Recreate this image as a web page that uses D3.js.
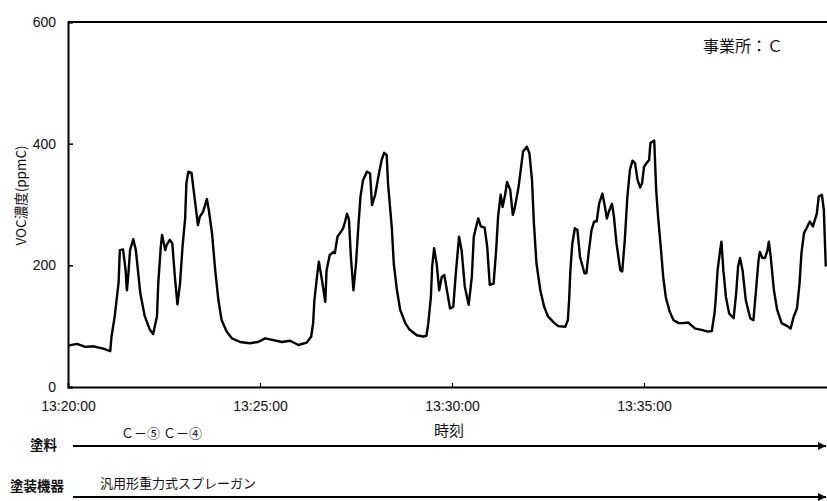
<!DOCTYPE html>
<html>
<head>
<meta charset="utf-8">
<script src="https://cdn.jsdelivr.net/npm/d3@7/dist/d3.min.js"></script>
<style>
  html, body { margin: 0; padding: 0; background: #fff; overflow: hidden; }
  svg { display: block; }
  .num { font-family: "Liberation Sans", Arial, sans-serif; }
  .jp { font-family: "Noto Sans CJK JP", "Noto Sans", sans-serif; }
</style>
</head>
<body>
<svg id="chart" width="827" height="501"></svg>
<script>
// Measurement start and sampled series (seconds after start, VOC ppmC)
const startTime = "13:20:00";
const elapsedSec = [
  0, 14, 27, 39, 55, 66, 68, 73, 79, 81, 86, 90, 92, 94, 97, 102, 106, 113, 120, 128,
  133, 139, 141, 145, 147, 152, 154, 159, 163, 167, 171, 175, 179, 183, 185, 188, 193, 197, 203, 206,
  211, 217, 220, 225, 230, 235, 240, 248, 256, 269, 284, 297, 308, 321, 334, 347, 360, 373, 380, 383,
  385, 389, 392, 396, 402, 404, 409, 415, 417, 421, 425, 430, 433, 436, 439, 442, 446, 450, 454, 457,
  461, 467, 472, 475, 480, 485, 490, 494, 498, 500, 506, 509, 514, 519, 527, 534, 545, 555, 560, 563,
  567, 569, 572, 576, 580, 584, 588, 592, 597, 602, 606, 611, 615, 620, 626, 631, 634, 639, 641, 645,
  651, 655, 659, 665, 669, 672, 676, 679, 683, 686, 691, 695, 698, 704, 708, 711, 717, 721, 725, 728,
  732, 738, 744, 750, 758, 766, 777, 781, 783, 785, 788, 792, 796, 800, 807, 810, 814, 818, 822, 826,
  830, 835, 839, 842, 845, 850, 853, 857, 863, 866, 870, 874, 878, 882, 886, 890, 894, 897, 900, 904,
  908, 910, 916, 919, 922, 927, 930, 934, 940, 946, 954, 961, 969, 980, 990, 1000, 1006, 1010, 1012, 1015,
  1019, 1021, 1024, 1028, 1033, 1040, 1044, 1047, 1050, 1054, 1059, 1066, 1071, 1075, 1079, 1081, 1085, 1089, 1093, 1095,
  1098, 1103, 1108, 1115, 1124, 1129, 1134, 1139, 1143, 1146, 1150, 1154, 1159, 1164, 1170, 1173, 1178, 1181, 1184
];
const vocPpmC = [
  68, 71, 66, 67, 63, 59, 83, 116, 171, 225, 226, 192, 159, 181, 225, 243, 225, 154, 116, 94,
  87, 116, 170, 231, 250, 225, 233, 242, 236, 181, 136, 170, 231, 277, 335, 354, 352, 318, 266, 280,
  288, 309, 291, 253, 192, 143, 110, 91, 80, 74, 72, 74, 80, 77, 74, 76, 69, 73, 83, 105,
  143, 181, 206, 181, 140, 192, 217, 222, 220, 247, 253, 261, 272, 285, 275, 214, 159, 203, 269, 313,
  340, 354, 351, 299, 316, 346, 373, 385, 381, 335, 261, 203, 159, 127, 105, 94, 85, 83, 84, 105,
  148, 198, 228, 203, 159, 181, 184, 159, 129, 132, 187, 247, 225, 165, 135, 181, 247, 269, 277, 264,
  262, 231, 168, 170, 225, 280, 316, 296, 316, 337, 324, 283, 294, 329, 362, 387, 395, 384, 340, 269,
  203, 159, 132, 116, 107, 100, 99, 110, 143, 192, 236, 261, 258, 214, 187, 187, 225, 258, 272, 272,
  302, 318, 296, 277, 288, 301, 280, 236, 192, 190, 242, 313, 357, 372, 368, 340, 328, 335, 362, 368,
  373, 401, 405, 324, 280, 220, 181, 148, 124, 110, 105, 105, 106, 96, 94, 91, 92, 120, 143, 192,
  225, 239, 192, 148, 121, 113, 154, 198, 212, 192, 143, 113, 110, 159, 209, 222, 212, 212, 225, 239,
  214, 159, 127, 105, 100, 96, 116, 129, 170, 220, 253, 261, 272, 264, 285, 313, 316, 291, 198
];

// Axis settings
const yTicks = [0, 200, 400, 600];
const xTickMinutes = [0, 5, 10, 15];
const spanMinutes = 20;

// Annotation rows under the time axis
const paintLabel = "塗料";
const paintNames = "Ｃ－⑤ Ｃ－④";
const equipLabel = "塗装機器";
const equipName = "汎用形重力式スプレーガン";
const siteLabel = "事業所：Ｃ";
const yTitle = "VOC濃度(ppmC)";
const xTitle = "時刻";

const parseClock = d3.timeParse("%H:%M:%S");
const t0 = parseClock(startTime);
const data = elapsedSec.map((s, i) => ({ t: d3.timeSecond.offset(t0, s), v: vocPpmC[i] }));

const margin = { left: 68, top: 22, right: 836, bottom: 387 };
const svg = d3.select("#chart");

const x = d3.scaleTime()
  .domain([t0, d3.timeMinute.offset(t0, spanMinutes)])
  .range([margin.left, margin.right]);
const y = d3.scaleLinear().domain([0, 600]).range([margin.bottom, margin.top]);

// Frame: top border, left and bottom axes
svg.append("line")
  .attr("x1", margin.left).attr("x2", margin.right)
  .attr("y1", margin.top).attr("y2", margin.top)
  .attr("stroke", "#000").attr("stroke-width", 2);

const yAxis = d3.axisLeft(y).tickValues(yTicks).tickSize(-5).tickPadding(12).tickFormat(d3.format("d"));
const gy = svg.append("g").attr("transform", `translate(${margin.left},0)`).call(yAxis);
gy.select(".domain").attr("stroke-width", 2);
gy.selectAll(".tick line").attr("stroke-width", 1.5);
gy.selectAll("text").attr("class", "num").attr("font-size", 14).attr("fill", "#111");

const xAxis = d3.axisBottom(x)
  .tickValues(xTickMinutes.map(m => d3.timeMinute.offset(t0, m)))
  .tickSize(-4).tickPadding(14)
  .tickFormat(d3.timeFormat("%H:%M:%S"));
const gx = svg.append("g").attr("transform", `translate(0,${margin.bottom})`).call(xAxis);
gx.select(".domain").attr("stroke-width", 2);
gx.selectAll(".tick line").attr("stroke-width", 1.2);
gx.selectAll("text").attr("class", "num").attr("font-size", 14).attr("fill", "#111");

// VOC concentration trace
const line = d3.line().x(d => x(d.t)).y(d => y(d.v));
svg.append("path")
  .datum(data)
  .attr("d", line)
  .attr("fill", "none")
  .attr("stroke", "#000")
  .attr("stroke-width", 2.4)
  .attr("stroke-linejoin", "round");

// Titles
svg.append("text").attr("class", "jp")
  .attr("transform", `translate(26,${(margin.top + margin.bottom) / 2 - 9}) rotate(-90)`)
  .attr("text-anchor", "middle").attr("font-size", 13.5).attr("fill", "#111")
  .text(yTitle);

svg.append("text").attr("class", "jp")
  .attr("x", 449).attr("y", 436)
  .attr("text-anchor", "middle").attr("font-size", 15).attr("fill", "#111")
  .text(xTitle);

svg.append("text").attr("class", "jp")
  .attr("x", 703).attr("y", 52)
  .attr("font-size", 16).attr("fill", "#111")
  .text(siteLabel);

// Process rows with arrows
const defs = svg.append("defs");
defs.append("marker")
  .attr("id", "arrow").attr("viewBox", "0 0 10 10")
  .attr("refX", 10).attr("refY", 5)
  .attr("markerWidth", 4).attr("markerHeight", 4)
  .attr("markerUnits", "strokeWidth")
  .attr("orient", "auto")
  .append("path").attr("d", "M0,0 L10,5 L0,10 Z").attr("fill", "#000");

const rows = [
  { label: paintLabel, labelX: 30, name: paintNames, nameX: 121, nameY: 438, y: 446, labelY: 450 },
  { label: equipLabel, labelX: 10, name: equipName, nameX: 100, nameY: 488, y: 497, labelY: 491 }
];

rows.forEach(r => {
  svg.append("line")
    .attr("x1", 73).attr("x2", 826)
    .attr("y1", r.y).attr("y2", r.y)
    .attr("stroke", "#000").attr("stroke-width", 2)
    .attr("marker-end", "url(#arrow)");
  svg.append("text").attr("class", "jp")
    .attr("x", r.labelX).attr("y", r.labelY)
    .attr("font-size", 13.5).attr("font-weight", 700).attr("fill", "#111")
    .text(r.label);
  svg.append("text").attr("class", "jp")
    .attr("x", r.nameX).attr("y", r.nameY)
    .attr("font-size", 13).attr("fill", "#111")
    .text(r.name);
});
</script>
</body>
</html>
